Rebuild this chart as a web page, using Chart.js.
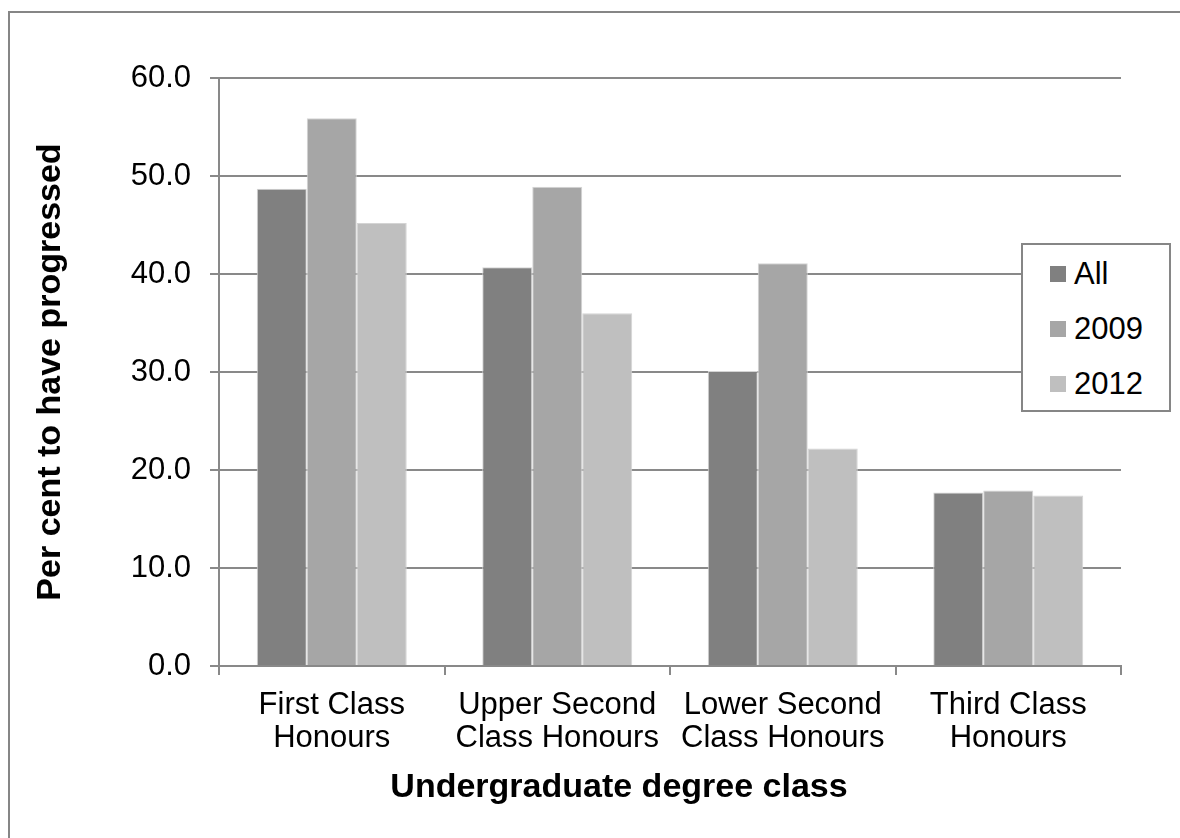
<!DOCTYPE html>
<html>
<head>
<meta charset="utf-8">
<script src="https://cdn.jsdelivr.net/npm/chart.js@4.4.1/dist/chart.umd.min.js"></script>
<style>
  html, body { margin: 0; padding: 0; background: #ffffff; overflow: hidden; }
  #wrap { position: relative; width: 1180px; height: 838px; }
  #frame { position: absolute; left: 8px; top: 11px; width: 1300px; height: 1000px;
           border-left: 2px solid #868686; border-top: 2px solid #868686; pointer-events: none; }
  #legend { position: absolute; left: 1021px; top: 243px; width: 146px; height: 165px;
            border: 2px solid #868686; background: #ffffff;
            font-family: "Liberation Sans", Arial, sans-serif; font-size: 31px; color: #000; }
  .item { position: absolute; left: 0; height: 40px; display: flex; align-items: center; }
  .key { width: 16px; height: 16px; margin-left: 27px; margin-right: 8px; }
</style>
</head>
<body>
<div id="wrap">
  <canvas id="c" width="1180" height="838"></canvas>
  <div id="frame"></div>
  <div id="legend"></div>
</div>
<script>
const categories = [["First Class", "Honours"], ["Upper Second", "Class Honours"], ["Lower Second", "Class Honours"], ["Third Class", "Honours"]];
const seriesNames = ["All", "2009", "2012"];
const seriesAll = [48.7, 40.7, 30.1, 17.7];
const series2009 = [55.9, 48.9, 41.1, 17.9];
const series2012 = [45.2, 36.0, 22.2, 17.4];
const seriesColors = ["#808080", "#a6a6a6", "#bfbfbf"];
const yTicks = [0, 10, 20, 30, 40, 50, 60];
const yTitle = "Per cent to have progressed";
const xTitle = "Undergraduate degree class";

const gridColor = "#898989";
const values = [seriesAll, series2009, series2012];

const padLeft = 117;          // layout padding (centres the bottom title like the original)
const titleLH = 34 * 1.2;
const titleBottomPad = 30;
const titleBoxH = titleLH + titleBottomPad;

const chart = new Chart(document.getElementById("c"), {
  type: "bar",
  data: {
    labels: categories,
    datasets: seriesNames.map((n, i) => ({
      label: n,
      data: values[i],
      backgroundColor: seriesColors[i],
      borderColor: "#d4d4d4",
      borderWidth: 1,
      categoryPercentage: 0.665,
      barPercentage: 1.0
    }))
  },
  options: {
    responsive: false,
    animation: false,
    devicePixelRatio: 1,
    layout: { padding: { left: padLeft, top: 78, right: 59, bottom: 0 } },
    plugins: {
      legend: { display: false },
      tooltip: { enabled: false },
      title: {
        display: true, position: "bottom", align: "center", text: xTitle, color: "#000",
        font: { family: "Liberation Sans", size: 34, weight: "bold", lineHeight: 1.2 },
        padding: { top: 0, bottom: titleBottomPad }
      }
    },
    scales: {
      x: {
        afterFit: (s) => { s.height = 172 - titleBoxH; },
        grid: { drawOnChartArea: false, drawTicks: true, tickLength: 9, color: gridColor, lineWidth: 2, offset: true },
        border: { color: gridColor, width: 2 },
        ticks: {
          color: "#000", maxRotation: 0, minRotation: 0, autoSkip: false, padding: 14,
          font: { family: "Liberation Sans", size: 31, lineHeight: 1.07 }
        }
      },
      y: {
        min: 0, max: 60,
        afterFit: (s) => { s.width = 219 - padLeft; },
        afterBuildTicks: (s) => { s.ticks = yTicks.map(v => ({ value: v })); },
        grid: { drawOnChartArea: true, drawTicks: true, tickLength: 9, color: gridColor, lineWidth: 2 },
        border: { color: gridColor, width: 2 },
        ticks: {
          color: "#000", padding: 19,
          font: { family: "Liberation Sans", size: 31 },
          callback: (v) => Number(v).toFixed(1)
        },
        title: {
          display: true, text: yTitle, color: "#000",
          font: { family: "Liberation Sans", size: 34, weight: "bold", lineHeight: 1.2 },
          padding: { top: 30 - padLeft, bottom: 0 }
        }
      }
    }
  }
});

// legend built from chart datasets
const legend = document.getElementById("legend");
const rowCenters = [29, 84, 139];
chart.data.datasets.forEach((ds, i) => {
  const it = document.createElement("div");
  it.className = "item";
  it.style.top = (rowCenters[i] - 20) + "px";
  const k = document.createElement("span");
  k.className = "key";
  k.style.background = ds.backgroundColor;
  const t = document.createElement("span");
  t.textContent = ds.label;
  it.appendChild(k); it.appendChild(t);
  legend.appendChild(it);
});
</script>
</body>
</html>
